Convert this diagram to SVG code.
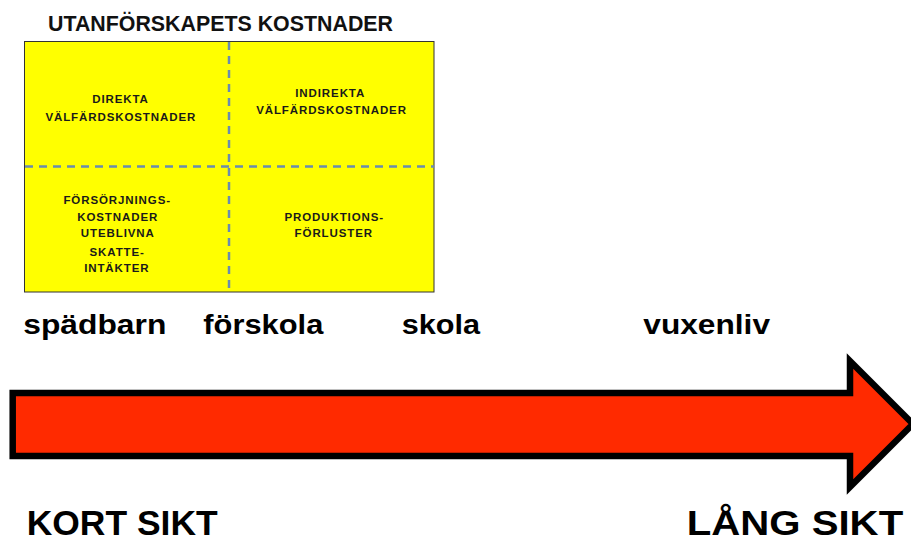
<svg xmlns="http://www.w3.org/2000/svg" width="911" height="543" viewBox="0 0 911 543">
  <style>
    .title { font-family: "Liberation Sans", Arial, sans-serif; font-weight: bold; font-size: 22px; fill: #111; }
    .cell { font-family: "Liberation Sans", Arial, sans-serif; font-weight: bold; font-size: 11.5px; letter-spacing: 0.9px; fill: #1a1a1a; text-anchor: middle; }
    .stage { font-family: "Liberation Sans", Arial, sans-serif; font-weight: bold; font-size: 28px; fill: #000; }
    .term { font-family: "Liberation Sans", Arial, sans-serif; font-weight: bold; font-size: 35px; fill: #000; }
    .divider { stroke: #6a8caf; stroke-width: 2.5; stroke-dasharray: 8 6; fill: none; }
  </style>

  <rect width="911" height="543" fill="#ffffff"/>

  <!-- Cost matrix -->
  <g id="cost-matrix">
    <text class="title" x="48" y="30.5" textLength="345" lengthAdjust="spacingAndGlyphs">UTANFÖRSKAPETS KOSTNADER</text>
    <rect x="24.5" y="41.5" width="409.5" height="250.5" fill="#ffff00" stroke="#333333" stroke-width="1"/>
  </g>

  <!-- Quadrant dividers -->
  <g id="connectors">
    <line class="divider" x1="229" y1="42" x2="229" y2="292"/>
    <line class="divider" x1="25" y1="166.5" x2="434" y2="166.5"/>
  </g>

  <g id="direct-welfare">
    <text class="cell" x="120.5" y="103.3">DIREKTA</text>
    <text class="cell" x="120.8" y="120.5">VÄLFÄRDSKOSTNADER</text>
  </g>

  <g id="indirect-welfare">
    <text class="cell" x="330.2" y="97.3">INDIREKTA</text>
    <text class="cell" x="331.5" y="114.3">VÄLFÄRDSKOSTNADER</text>
  </g>

  <g id="support-tax">
    <text class="cell" x="117.2" y="204">FÖRSÖRJNINGS-</text>
    <text class="cell" x="117.7" y="220.7">KOSTNADER</text>
    <text class="cell" x="117.8" y="237.3">UTEBLIVNA</text>
    <text class="cell" x="117.2" y="255.7">SKATTE-</text>
    <text class="cell" x="116.8" y="272.3">INTÄKTER</text>
  </g>

  <g id="production-loss">
    <text class="cell" x="334.2" y="220.7">PRODUKTIONS-</text>
    <text class="cell" x="333.8" y="237.3">FÖRLUSTER</text>
  </g>

  <!-- Life stages -->
  <g id="stages">
    <text class="stage" x="23.3" y="333.5" textLength="143" lengthAdjust="spacingAndGlyphs">spädbarn</text>
    <text class="stage" x="203.3" y="333.5" textLength="120" lengthAdjust="spacingAndGlyphs">förskola</text>
    <text class="stage" x="401.7" y="333.5" textLength="78.3" lengthAdjust="spacingAndGlyphs">skola</text>
    <text class="stage" x="643.3" y="333.5" textLength="126.7" lengthAdjust="spacingAndGlyphs">vuxenliv</text>
  </g>

  <!-- Time arrow -->
  <g id="time-arrow">
    <path d="M12.7,393 H850 V361 L913,424 L850,487 V456 H12.7 Z" fill="#ff2a00" stroke="#000000" stroke-width="6.5" stroke-linejoin="miter" stroke-miterlimit="10"/>
  </g>

  <g id="horizon-labels">
    <text class="term" x="26.7" y="535" textLength="191" lengthAdjust="spacingAndGlyphs">KORT SIKT</text>
    <text class="term" x="686.7" y="535" textLength="216.5" lengthAdjust="spacingAndGlyphs">LÅNG SIKT</text>
  </g>
</svg>
